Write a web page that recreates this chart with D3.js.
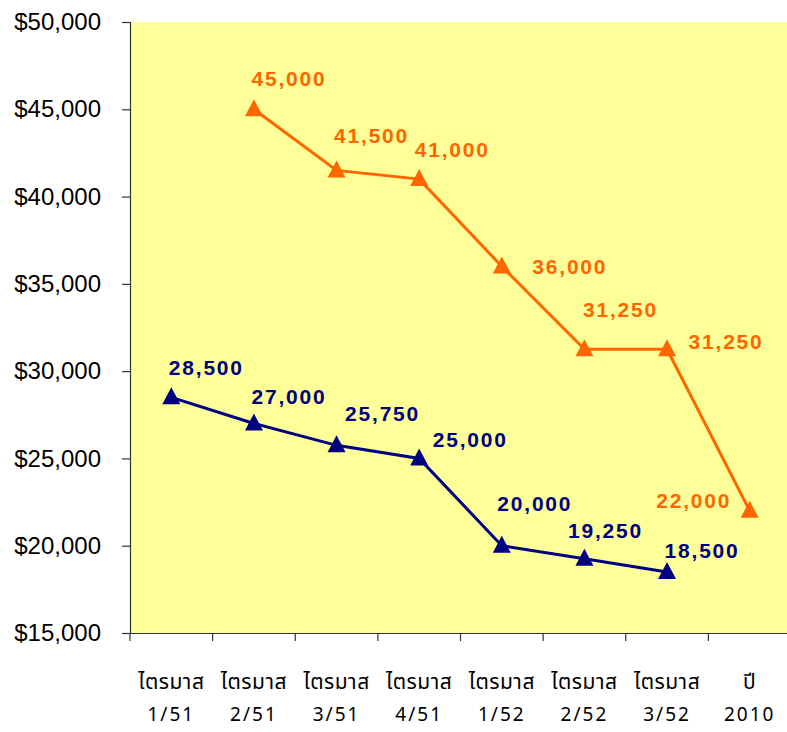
<!DOCTYPE html>
<html>
<head>
<meta charset="utf-8">
<script src="https://cdn.jsdelivr.net/npm/d3@7"></script>
<style>
  body { margin: 0; background: #fff; }
  svg { display: block; }
</style>
</head>
<body>
<div id="chart"></div>
<script>
// categories (two-line labels)
const quarters = ["ไตรมาส\n1/51", "ไตรมาส\n2/51", "ไตรมาส\n3/51", "ไตรมาส\n4/51",
                  "ไตรมาส\n1/52", "ไตรมาส\n2/52", "ไตรมาส\n3/52", "ปี\n2010"];
// series values (null = no point)
const blueValues   = [28500, 27000, 25750, 25000, 20000, 19250, 18500, null];
const orangeValues = [null, 45000, 41500, 41000, 36000, 31250, 31250, 22000];
const yTicks = [15000, 20000, 25000, 30000, 35000, 40000, 45000, 50000];

// label placement relative to each point (label centre x, baseline y)
const blueLabelOffset   = [[35, -22], [35, -20], [46, -24], [51, -11], [33, -35], [21, -21], [35, -14], null];
const orangeLabelOffset = [null, [35, -23], [35, -27], [33, -22], [68, 8], [36, -32], [59, 0], [-56, -3]];

const width = 787, height = 732;
const margin = {top: 22, right: -4, bottom: 99, left: 130};

const svg = d3.select("#chart").append("svg")
  .attr("width", width)
  .attr("height", height);

const x = d3.scaleBand()
  .domain(quarters)
  .range([margin.left, width - margin.right]);

const y = d3.scaleLinear()
  .domain([15000, 50000])
  .range([height - margin.bottom, margin.top]);

// plot background
svg.append("rect")
  .attr("x", margin.left)
  .attr("y", margin.top)
  .attr("width", width - margin.right - margin.left)
  .attr("height", height - margin.bottom - margin.top)
  .attr("fill", "#ffff99");

// y axis
const yAxis = svg.append("g")
  .attr("transform", `translate(${margin.left},0)`)
  .call(d3.axisLeft(y).tickValues(yTicks).tickSize(8).tickPadding(21)
    .tickFormat(d => "$" + d3.format(",")(d)));
yAxis.selectAll("path, line").attr("stroke", "#333").attr("stroke-width", 1.2);
yAxis.selectAll("text")
  .attr("font-family", "Arial, 'Liberation Sans', sans-serif")
  .attr("font-size", 24)
  .attr("fill", "#000");

// x axis
const xAxis = svg.append("g")
  .attr("transform", `translate(0,${height - margin.bottom})`)
  .call(d3.axisBottom(x).tickSize(0).tickFormat(""));
xAxis.select("path").attr("stroke", "#333").attr("stroke-width", 1.2);
xAxis.selectAll(".tickmark")
  .data(quarters.slice(1))
  .join("line")
  .attr("x1", d => x(d)).attr("x2", d => x(d))
  .attr("y1", 0).attr("y2", 8)
  .attr("stroke", "#333").attr("stroke-width", 1.2);
xAxis.append("line")
  .attr("x1", margin.left).attr("x2", margin.left)
  .attr("y1", 0).attr("y2", 8)
  .attr("stroke", "#333").attr("stroke-width", 1.2);

const xLabels = xAxis.selectAll(".xlab")
  .data(quarters)
  .join("text")
  .attr("class", "xlab")
  .attr("text-anchor", "middle")
  .attr("font-family", "'Noto Sans Thai', Tahoma, 'DejaVu Sans', sans-serif")
  .attr("font-size", 21)
  .attr("fill", "#000");
xLabels.append("tspan")
  .attr("x", d => x(d) + x.bandwidth() / 2)
  .attr("y", 56)
  .attr("letter-spacing", 0.5)
  .text(d => d.split("\n")[0]);
xLabels.append("tspan")
  .attr("x", d => x(d) + x.bandwidth() / 2)
  .attr("y", 88)
  .attr("font-size", 19)
  .attr("letter-spacing", 2)
  .text(d => d.split("\n")[1]);

function drawSeries(values, offsets, color) {
  const pts = values.map((v, i) => ({v, i, cat: quarters[i], off: offsets[i]}))
    .filter(d => d.v !== null);
  const cx = d => x(d.cat) + x.bandwidth() / 2;

  svg.append("path")
    .datum(pts)
    .attr("fill", "none")
    .attr("stroke", color)
    .attr("stroke-width", 3)
    .attr("d", d3.line().x(cx).y(d => y(d.v)));

  svg.selectAll(null)
    .data(pts)
    .join("path")
    .attr("transform", d => `translate(${cx(d)},${y(d.v)})`)
    .attr("d", "M0,-10L9,7L-9,7Z")
    .attr("fill", color);

  svg.selectAll(null)
    .data(pts)
    .join("text")
    .attr("x", d => cx(d) + d.off[0])
    .attr("y", d => y(d.v) + d.off[1])
    .attr("text-anchor", "middle")
    .attr("font-family", "Arial, 'Liberation Sans', sans-serif")
    .attr("font-weight", "bold")
    .attr("font-size", 21)
    .attr("letter-spacing", 1.8)
    .attr("fill", color)
    .text(d => d3.format(",")(d.v));
}

drawSeries(orangeValues, orangeLabelOffset, "#ff6600");
drawSeries(blueValues, blueLabelOffset, "#000080");
</script>
</body>
</html>
